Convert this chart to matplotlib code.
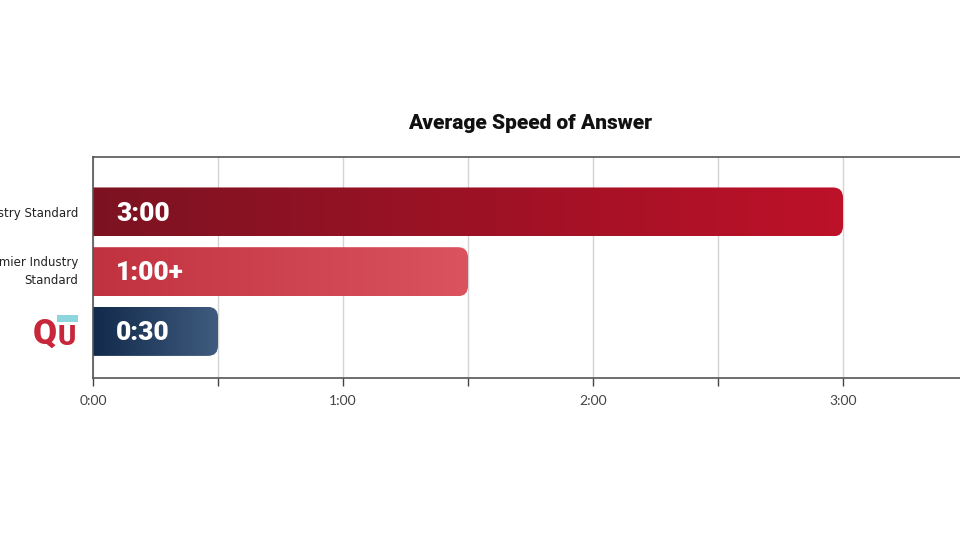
import matplotlib
matplotlib.use("Agg")
import matplotlib.pyplot as plt
import numpy as np
from matplotlib.colors import LinearSegmentedColormap
from matplotlib.patches import FancyBboxPatch, Rectangle
from matplotlib.ticker import MultipleLocator, FuncFormatter

# data (seconds)
categories = ["Industry Standard", "Premier Industry\nStandard", "QU"]
values = [180, 90, 30]
bar_labels = ["3:00", "1:00+", "0:30"]
grad_colors = [("#7c1321", "#bd1129"), ("#c1323f", "#da535f"), ("#122a4c", "#3f5b7e")]

fig = plt.figure(figsize=(9.6, 5.4), dpi=100)
ax = fig.add_axes([93 / 960, 162 / 540, 875 / 960, 221 / 540])

ax.set_xlim(0, 210)
ax.set_ylim(2.78, -0.92)

bar_h = 0.82
r_x = 2.4  # corner radius in seconds
r_y = 0.17
grad = np.linspace(0, 1, 256).reshape(1, -1)

for i, (val, lab, (c0, c1)) in enumerate(zip(values, bar_labels, grad_colors)):
    y0 = i - bar_h / 2
    patch = FancyBboxPatch((-6, y0), val + 6, bar_h,
                           boxstyle=f"round,pad=0,rounding_size={r_x}",
                           mutation_aspect=r_y / r_x,
                           facecolor="none", edgecolor="none", zorder=2)
    ax.add_patch(patch)
    cmap = LinearSegmentedColormap.from_list(f"g{i}", [c0, c1])
    im = ax.imshow(grad, cmap=cmap, aspect="auto", extent=[0, val, i + bar_h / 2, y0],
                   interpolation="bicubic", zorder=2)
    im.set_clip_path(patch)
    ax.text(5.5, i + 0.03, lab, color="white", fontsize=19, fontweight=900,
            family="Roboto", va="center", ha="left", zorder=3)

ax.set_xlim(0, 210)
ax.set_ylim(2.78, -0.92)

# grid and ticks
ax.xaxis.set_major_locator(MultipleLocator(30))
ax.xaxis.set_major_formatter(FuncFormatter(
    lambda v, p: f"{int(v // 60)}:00" if v % 60 == 0 else ""))
ax.grid(axis="x", color="#d4d4d4", linewidth=1, zorder=0)
ax.set_axisbelow(True)
ax.tick_params(axis="x", length=6, width=1, color="#444444", pad=6,
               labelsize=10, labelcolor="#444444")
for t in ax.get_xticklabels():
    t.set_family("Lato")
ax.set_yticks([])
for s in ["top", "bottom", "left"]:
    ax.spines[s].set_color("#555555")
    ax.spines[s].set_linewidth(1.2)
ax.spines["right"].set_visible(False)

# category labels (cut by the left edge, as in the original)
ax.text(-3.6, 0.02, categories[0], ha="right", va="center", fontsize=8.5,
        family="DejaVu Sans", color="#222222")
ax.text(-3.6, 1.0, categories[1], ha="right", va="center", fontsize=8.5,
        family="DejaVu Sans", color="#222222", linespacing=1.45)

# logo
ax.text(-8.6, 2.05, "Q", ha="right", va="center", fontsize=25, fontweight=900,
        family="Roboto", color="#c8263a", clip_on=False)
ax.text(-8.4, 2.1, "U", ha="left", va="center", fontsize=20, fontweight=900,
        family="Roboto", color="#c8263a", clip_on=False)
ax.add_patch(Rectangle((-8.6, 1.72), 5.0, 0.12, facecolor="#8dd6de",
                       edgecolor="none", clip_on=False))

ax.set_title("Average Speed of Answer", fontsize=15, fontweight=900,
             family="Roboto", color="#111111", pad=20)

fig.savefig("out.png", dpi=100)
